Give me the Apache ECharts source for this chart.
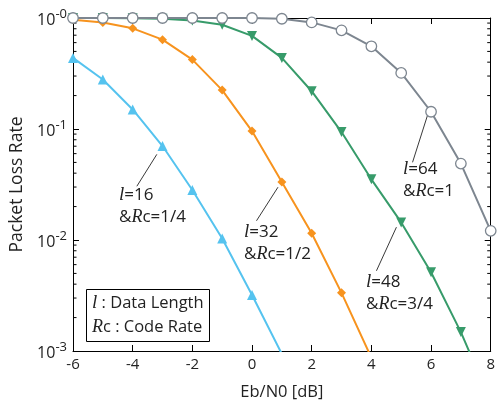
<!DOCTYPE html>
<html><head><meta charset="utf-8">
<script src="https://cdn.jsdelivr.net/npm/echarts@6/dist/echarts.min.js"></script>
<style>html,body{margin:0;padding:0;background:#fff}#c{width:498px;height:406px}</style>
</head><body><div id="c"></div>
<script>
const xValues = [-6, -5, -4, -3, -2, -1, 0, 1, 2, 3, 4, 5, 6, 7, 8];
const l16 = [0.437, 0.279, 0.150, 0.0702, 0.0282, 0.0103, 0.0032, 0.00094];
const l32 = [0.966, 0.91, 0.807, 0.638, 0.422, 0.224, 0.0958, 0.0333, 0.0115, 0.00334, 0.00087];
const l48 = [1.0, 0.998, 0.995, 0.985, 0.95, 0.87, 0.69, 0.437, 0.219, 0.0938, 0.0352, 0.0144, 0.00512, 0.00148, 0.00035];
const l64 = [1.0, 1.0, 1.0, 1.0, 1.0, 1.0, 1.0, 0.985, 0.913, 0.774, 0.556, 0.32, 0.143, 0.0488, 0.0121];
const xTicks = [-6, -4, -2, 0, 2, 4, 6, 8];
const yTickLabels = ['-3', '-2', '-1', '-0'];
const minorTickValues = [];
[0.001, 0.01, 0.1].forEach(d => { for (let k = 2; k <= 9; k++) minorTickValues.push(+(d * k).toPrecision(3)); });
// annotation leader lines in data coordinates [x, y] -> [x, y]
const leaders = [
  [[-3.19, 0.0591], [-3.86, 0.0305]],
  [[0.87, 0.0299], [0.15, 0.0149]],
  [[4.84, 0.01305], [4.17, 0.00528]],
  [[5.89, 0.135], [5.38, 0.0501]]
];
const annoTexts = [
  {t: '{i|l}=16\n&{R|R}c=1/4', x: 119, y: 184},
  {t: '{i|l}=32\n&{R|R}c=1/2', x: 244, y: 221},
  {t: '{i|l}=48\n&{R|R}c=3/4', x: 366, y: 271},
  {t: '{i|l}=64\n&{R|R}c=1', x: 403, y: 158}
];

const FONT = 'Open Sans';
const chart = echarts.init(document.getElementById('c'), null, {renderer: 'canvas'});
const pair = arr => arr.map((v, i) => [xValues[i], v]);
const annRich = {
  i: {fontFamily: 'Liberation Serif', fontStyle: 'italic', fontSize: 19, lineHeight: 22},
  R: {fontFamily: 'Liberation Serif', fontStyle: 'italic', fontSize: 18, lineHeight: 22}
};
const yLabelMap = {};
yTickLabels.forEach((s, i) => { yLabelMap[i - 3] = s; });

const option = {
  animation: false,
  grid: {left: 73, right: 7, top: 18, bottom: 54},
  xAxis: [{
    type: 'value', min: -6, max: 8, interval: 2,
    name: 'Eb/N0 [dB]', nameLocation: 'middle', nameGap: 33,
    nameTextStyle: {fontFamily: FONT, fontSize: 16.5, color: '#222'},
    axisLine: {onZero: false, lineStyle: {color: '#000', width: 1}},
    axisTick: {inside: true, length: 6, lineStyle: {color: '#000'}},
    axisLabel: {fontFamily: FONT, fontSize: 15, color: '#222', margin: 6,
      formatter: v => xTicks.includes(v) ? String(v) : ''},
    splitLine: {show: false}
  }, {
    type: 'value', min: -6, max: 8, interval: 2, position: 'top',
    axisLine: {onZero: false, lineStyle: {color: '#000', width: 1}},
    axisTick: {inside: true, length: 6, lineStyle: {color: '#000'}},
    axisLabel: {show: false}, splitLine: {show: false}
  }],
  yAxis: [{
    type: 'log', logBase: 10, min: 0.001, max: 1,
    name: 'Packet Loss Rate', nameLocation: 'middle', nameGap: 46,
    nameTextStyle: {fontFamily: FONT, fontSize: 17.5, color: '#222'},
    axisLine: {show: true, onZero: false, lineStyle: {color: '#000', width: 1}},
    axisTick: {inside: true, length: 6, lineStyle: {color: '#000'}},
    axisLabel: {margin: 6, formatter: v => '{b|10}{s|' + yLabelMap[Math.round(Math.log10(v))] + '}',
      rich: {b: {fontFamily: FONT, fontSize: 16, color: '#222', lineHeight: 20, verticalAlign: 'bottom'},
             s: {fontFamily: FONT, fontSize: 13, color: '#222', lineHeight: 20, verticalAlign: 'top', padding: [0, 0, 9, 0]}}},
    splitLine: {show: false}
  }, {
    type: 'log', logBase: 10, min: 0.001, max: 1, position: 'right',
    axisLine: {show: true, onZero: false, lineStyle: {color: '#000', width: 1}},
    axisTick: {inside: true, length: 6, lineStyle: {color: '#000'}},
    axisLabel: {show: false}, splitLine: {show: false}
  }],
  series: [
    {type: 'custom', silent: true, xAxisIndex: 0, yAxisIndex: 0, z: 1,
      data: minorTickValues.map(v => [0, v]),
      renderItem: (params, api) => {
        const v = api.value(1);
        const a = api.coord([-6, v]);
        const b = api.coord([8, v]);
        return {type: 'group', children: [
          {type: 'line', shape: {x1: a[0], y1: a[1], x2: a[0] + 3.5, y2: a[1]}, style: {stroke: '#000', lineWidth: 1}},
          {type: 'line', shape: {x1: b[0], y1: b[1], x2: b[0] - 3.5, y2: b[1]}, style: {stroke: '#000', lineWidth: 1}}
        ]};
      }},
    {type: 'custom', silent: true, xAxisIndex: 0, yAxisIndex: 0, z: 1, clip: false,
      data: leaders.map((l, i) => [i]),
      renderItem: (params, api) => {
        const l = leaders[api.value(0)];
        const a = api.coord(l[0]);
        const b = api.coord(l[1]);
        return {type: 'line', shape: {x1: a[0], y1: a[1], x2: b[0], y2: b[1]}, style: {stroke: '#222', lineWidth: 0.9}};
      }},
    {name: 'l16', type: 'line', data: pair(l16), color: '#55C3EF', lineStyle: {width: 2, color: '#55C3EF'},
      symbol: 'triangle', symbolSize: 10, itemStyle: {color: '#55C3EF'}, z: 3},
    {name: 'l32', type: 'line', data: pair(l32), color: '#F7931E', lineStyle: {width: 2, color: '#F7931E'},
      symbol: 'diamond', symbolSize: 9, itemStyle: {color: '#F7931E'}, z: 3},
    {name: 'l48', type: 'line', data: pair(l48), color: '#379B6A', lineStyle: {width: 2, color: '#379B6A'},
      symbol: 'triangle', symbolRotate: 180, symbolSize: 10, itemStyle: {color: '#379B6A'}, z: 3},
    {name: 'l64', type: 'line', data: pair(l64), color: '#7D8690', lineStyle: {width: 2, color: '#7D8690'},
      symbol: 'circle', symbolSize: 10.5, showAllSymbol: true,
      itemStyle: {color: '#fff', borderColor: '#7D8690', borderWidth: 1.3}, z: 4}
  ],
  graphic: annoTexts.map(a => ({
    type: 'text', left: a.x, top: a.y, z: 10,
    style: {text: a.t, fontFamily: FONT, fontSize: 17, fill: '#222', lineHeight: 22, rich: annRich}
  })).concat([
    {type: 'rect', left: 86, top: 289, z: 10,
      shape: {width: 123, height: 52}, style: {fill: '#fff', stroke: '#000', lineWidth: 1}},
    {type: 'text', left: 92, top: 291, z: 11,
      style: {text: '{i|l} : Data Length\n{R|R}c : Code Rate', fontFamily: FONT, fontSize: 16.5, fill: '#222', lineHeight: 24,
        rich: {i: {fontFamily: 'Liberation Serif', fontStyle: 'italic', fontSize: 19, lineHeight: 24},
               R: {fontFamily: 'Liberation Serif', fontStyle: 'italic', fontSize: 18, lineHeight: 24}}}}
  ])
};
chart.setOption(option);
</script></body></html>
